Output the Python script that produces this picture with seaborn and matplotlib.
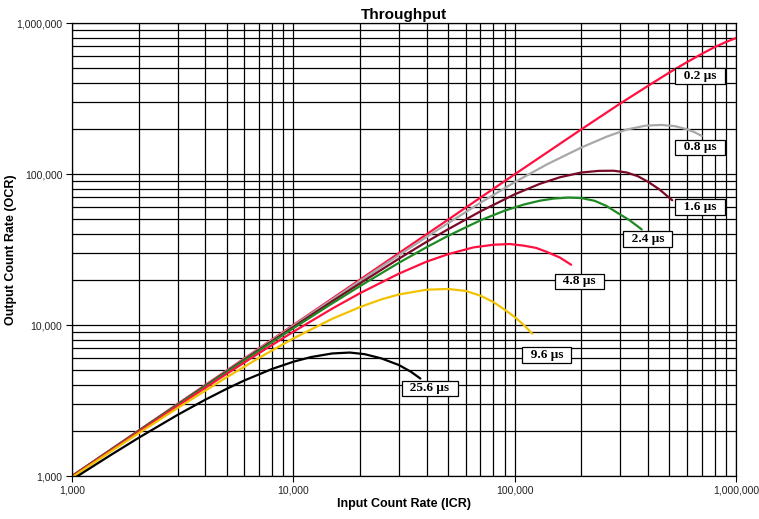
import matplotlib
matplotlib.use("Agg")
import matplotlib.pyplot as plt
import matplotlib.ticker as mticker
import seaborn as sns
import pandas as pd

# ---- data (ICR -> OCR) ----
labels = ["0.2 µs", "0.8 µs", "1.6 µs", "2.4 µs", "4.8 µs", "9.6 µs", "25.6 µs"]

icr_02 = [1000, 10000, 100000, 200000, 300000, 400000, 500000, 600000, 700000, 800000, 900000, 1000000]
ocr_02 = [1000, 10000, 99500, 197500, 293000, 383000, 470000, 550000, 624000, 692000, 748000, 795000]

icr_08 = [1000, 2000, 3000, 5000, 7000, 10000, 15000, 20000, 30000, 40000, 50000, 70000, 100000,
          140000, 200000, 260000, 320000, 390000, 460000, 530000, 600000, 650000, 700000]
ocr_08 = [999, 1996, 2990, 4973, 6946, 9891, 14750, 19560, 29020, 38280, 47200, 64450, 88250,
          115900, 149700, 176500, 196800, 209000, 211400, 207400, 197800, 189000, 178800]

icr_16 = [1000, 1500, 2000, 3000, 5000, 7000, 10000, 15000, 20000, 30000, 40000, 50000, 70000, 100000,
          130000, 160000, 200000, 240000, 280000, 320000, 360000, 400000, 450000, 515000]
ocr_16 = [997, 1493, 1988, 2974, 4928, 6859, 9714, 14360, 18870, 27500, 35550, 43040, 56540, 73340,
          86100, 95120, 102300, 104900, 105100, 102400, 96730, 88880, 79200, 67000]

icr_24 = [1000, 1500, 2000, 3000, 5000, 7000, 10000, 15000, 20000, 30000, 40000, 50000, 70000, 90000,
          110000, 130000, 150000, 175000, 200000, 230000, 260000, 290000, 330000, 375000]
ocr_24 = [995, 1489, 1980, 2955, 4877, 6759, 9512, 13920, 18100, 25820, 32750, 38940, 49330, 57130,
          62770, 66560, 68760, 69820, 69300, 66420, 61410, 55540, 49500, 42940]

icr_48 = [1000, 1500, 2000, 3000, 5000, 7000, 10000, 15000, 20000, 30000, 40000, 50000, 65000, 80000,
          95000, 110000, 125000, 140000, 160000, 180000]
ocr_48 = [990, 1477, 1959, 2909, 4749, 6513, 9020, 12850, 16240, 21890, 26280, 29430, 32630, 34000,
          34380, 33530, 32400, 30440, 27970, 25070]

icr_96 = [1000, 1500, 2000, 3000, 5000, 7000, 10000, 15000, 20000, 25000, 30000, 40000, 50000, 60000,
          70000, 80000, 90000, 100000, 110000, 120000]
ocr_96 = [980, 1455, 1920, 2820, 4510, 6060, 8150, 11000, 13140, 14790, 15930, 17130, 17320, 16820,
          15650, 14210, 12650, 11300, 10000, 8770]

icr_256 = [1000, 1500, 2000, 3000, 4000, 5000, 6000, 8000, 10000, 12000, 15000, 18000, 21000, 25000,
           30000, 34000, 37500]
ocr_256 = [946, 1380, 1790, 2540, 3200, 3780, 4290, 5110, 5710, 6130, 6480, 6570, 6410, 6010,
           5430, 4900, 4420]

colors = ["#FF1040", "#A8A8A8", "#7A0A26", "#1F8A24", "#FF1040", "#F2C200", "#000000"]

series = [(icr_02, ocr_02), (icr_08, ocr_08), (icr_16, ocr_16), (icr_24, ocr_24),
          (icr_48, ocr_48), (icr_96, ocr_96), (icr_256, ocr_256)]

rows = []
for lab, (xs, ys) in zip(labels, series):
    for x, y in zip(xs, ys):
        rows.append({"ICR": x, "OCR": y, "curve": lab})
df = pd.DataFrame(rows)

# ---- style ----
sns.set_style("white")
plt.rcParams["font.family"] = ["Liberation Sans", "DejaVu Sans"]
plt.rcParams["text.color"] = "black"
plt.rcParams["axes.labelcolor"] = "black"
plt.rcParams["axes.titlecolor"] = "black"

fig = plt.figure(figsize=(7.59, 5.19), dpi=100)
ax = fig.add_axes([72 / 759, 43 / 519, 664 / 759, 453 / 519])

ax.set_xscale("log")
ax.set_yscale("log")
ax.set_xlim(1000, 1000000)
ax.set_ylim(1000, 1000000)

ax.grid(True, which="both", color="black", linewidth=0.9)
ax.set_axisbelow(True)

sns.lineplot(data=df, x="ICR", y="OCR", hue="curve", hue_order=labels,
             palette=dict(zip(labels, colors)), estimator=None, sort=False,
             legend=False, linewidth=1.6, ax=ax)

fmt = mticker.FuncFormatter(lambda v, p: f"{int(round(v)):,}")
ax.xaxis.set_major_locator(mticker.LogLocator(base=10, numticks=10))
ax.yaxis.set_major_locator(mticker.LogLocator(base=10, numticks=10))
ax.xaxis.set_minor_locator(mticker.LogLocator(base=10, subs=range(2, 10), numticks=20))
ax.yaxis.set_minor_locator(mticker.LogLocator(base=10, subs=range(2, 10), numticks=20))
ax.xaxis.set_major_formatter(fmt)
ax.yaxis.set_major_formatter(fmt)
ax.xaxis.set_minor_formatter(mticker.NullFormatter())
ax.yaxis.set_minor_formatter(mticker.NullFormatter())
ax.tick_params(which="major", length=4, width=0.8, color="black", direction="out",
               labelsize=7.5, labelcolor="#222222", pad=3,
               bottom=True, left=True)
ax.tick_params(which="minor", length=0)

for s in ax.spines.values():
    s.set_color("black")
    s.set_linewidth(0.9)

ax.set_xlabel("Input Count Rate (ICR)", fontsize=9, fontweight="bold", labelpad=2, color="black")
ax.set_ylabel("Output Count Rate (OCR)", fontsize=9, fontweight="bold", color="black")
ax.yaxis.set_label_coords(-0.083, 0.5)
ax.set_title("Throughput", fontsize=11, fontweight="bold", pad=3, color="black")

# curve labels
label_pos = [(0.946, 0.883), (0.946, 0.726), (0.946, 0.594), (0.867, 0.523),
             (0.764, 0.430), (0.715, 0.267), (0.539, 0.194)]
for lab, (fx, fy) in zip(labels, label_pos):
    ax.text(fx, fy, "  " + lab + "  ", transform=ax.transAxes, ha="center", va="center",
            fontsize=9.5, fontweight="bold", color="black",
            family=["Liberation Serif", "DejaVu Serif"],
            bbox=dict(boxstyle="square,pad=0.12", facecolor="white", edgecolor="black", linewidth=0.9),
            zorder=5)

fig.savefig("out.png", dpi=100, facecolor="white")
